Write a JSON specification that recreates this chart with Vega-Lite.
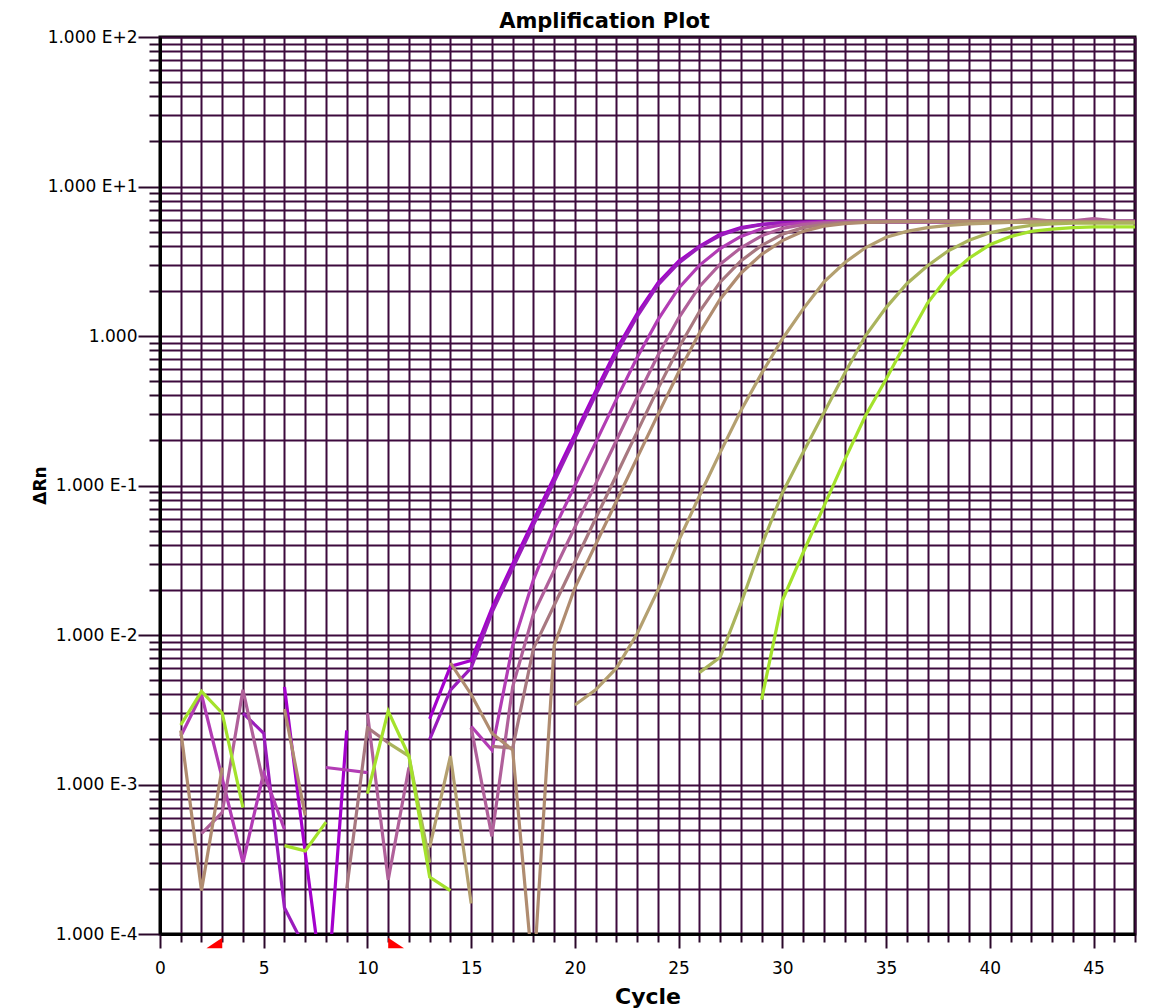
{
  "$schema": "https://vega.github.io/schema/vega-lite/v6.json",
  "width": 975,
  "height": 897,
  "autosize": {"type": "none"},
  "padding": {"left": 160, "top": 37, "right": 15, "bottom": 74},
  "background": "#ffffff",
  "config": {
    "font": "DejaVu Sans",
    "view": {"stroke": "#000000", "strokeWidth": 3},
    "axis": {
      "gridColor": "#3d0a3d",
      "gridWidth": 2,
      "gridOpacity": 1,
      "tickColor": "#2a082a",
      "tickWidth": 2,
      "domainColor": "#000000",
      "domainWidth": 3,
      "labelFont": "DejaVu Sans",
      "labelFontSize": 17,
      "labelColor": "#000000",
      "titleFont": "DejaVu Sans",
      "titleFontWeight": "bold",
      "titleColor": "#000000"
    }
  },
  "title": {
    "text": "Amplification Plot",
    "font": "DejaVu Sans",
    "fontSize": 21,
    "fontWeight": "bold",
    "color": "#000000",
    "anchor": "middle",
    "dx": -43,
    "offset": -4
  },
  "datasets": {
    "baseline": [
      {"marker": "start", "cycle": 3},
      {"marker": "end", "cycle": 11}
    ],
    "runs": [
      {"well":"P1","cycle":6,"dRn":0.0045},{"well":"P1","cycle":7,"dRn":0.00035},{"well":"P1","cycle":8,"dRn":0.00003},{"well":"P1","cycle":9,"dRn":0.0023},{"well":"P1","cycle":10,"dRn":null},
      {"well":"P1","cycle":13,"dRn":0.00275},{"well":"P1","cycle":14,"dRn":0.00617},{"well":"P1","cycle":15,"dRn":0.00676},{"well":"P1","cycle":16,"dRn":0.0151},{"well":"P1","cycle":17,"dRn":0.0299},{"well":"P1","cycle":18,"dRn":0.0582},{"well":"P1","cycle":19,"dRn":0.1135},{"well":"P1","cycle":20,"dRn":0.2203},{"well":"P1","cycle":21,"dRn":0.4266},{"well":"P1","cycle":22,"dRn":0.8128},{"well":"P1","cycle":23,"dRn":1.413},{"well":"P1","cycle":24,"dRn":2.265},{"well":"P1","cycle":25,"dRn":3.162},{"well":"P1","cycle":26,"dRn":3.981},{"well":"P1","cycle":27,"dRn":4.786},{"well":"P1","cycle":28,"dRn":5.309},{"well":"P1","cycle":29,"dRn":5.585},{"well":"P1","cycle":30,"dRn":5.728},{"well":"P1","cycle":31,"dRn":5.781},{"well":"P1","cycle":32,"dRn":5.821},{"well":"P1","cycle":33,"dRn":5.83},{"well":"P1","cycle":34,"dRn":5.82},{"well":"P1","cycle":35,"dRn":5.83},{"well":"P1","cycle":36,"dRn":5.82},{"well":"P1","cycle":37,"dRn":5.82},{"well":"P1","cycle":38,"dRn":5.83},{"well":"P1","cycle":39,"dRn":5.82},{"well":"P1","cycle":40,"dRn":5.82},{"well":"P1","cycle":41,"dRn":5.83},{"well":"P1","cycle":42,"dRn":5.82},{"well":"P1","cycle":43,"dRn":5.82},{"well":"P1","cycle":44,"dRn":5.83},{"well":"P1","cycle":45,"dRn":5.82},{"well":"P1","cycle":46,"dRn":5.82},{"well":"P1","cycle":47,"dRn":5.82},

      {"well":"P2","cycle":4,"dRn":0.003},{"well":"P2","cycle":5,"dRn":0.0022},{"well":"P2","cycle":6,"dRn":0.00015},{"well":"P2","cycle":7,"dRn":0.00008},{"well":"P2","cycle":8,"dRn":null},
      {"well":"P2","cycle":13,"dRn":0.002},{"well":"P2","cycle":14,"dRn":0.00427},{"well":"P2","cycle":15,"dRn":0.00603},{"well":"P2","cycle":16,"dRn":0.0141},{"well":"P2","cycle":17,"dRn":0.0279},{"well":"P2","cycle":18,"dRn":0.0543},{"well":"P2","cycle":19,"dRn":0.1059},{"well":"P2","cycle":20,"dRn":0.2065},{"well":"P2","cycle":21,"dRn":0.4027},{"well":"P2","cycle":22,"dRn":0.7674},{"well":"P2","cycle":23,"dRn":1.349},{"well":"P2","cycle":24,"dRn":2.188},{"well":"P2","cycle":25,"dRn":3.069},{"well":"P2","cycle":26,"dRn":3.926},{"well":"P2","cycle":27,"dRn":4.699},{"well":"P2","cycle":28,"dRn":5.248},{"well":"P2","cycle":29,"dRn":5.559},{"well":"P2","cycle":30,"dRn":5.715},{"well":"P2","cycle":31,"dRn":5.76},{"well":"P2","cycle":32,"dRn":5.77},{"well":"P2","cycle":33,"dRn":5.77},{"well":"P2","cycle":34,"dRn":5.77},{"well":"P2","cycle":35,"dRn":5.77},{"well":"P2","cycle":36,"dRn":5.77},{"well":"P2","cycle":37,"dRn":5.77},{"well":"P2","cycle":38,"dRn":5.77},{"well":"P2","cycle":39,"dRn":5.77},{"well":"P2","cycle":40,"dRn":5.77},{"well":"P2","cycle":41,"dRn":5.77},{"well":"P2","cycle":42,"dRn":5.77},{"well":"P2","cycle":43,"dRn":5.77},{"well":"P2","cycle":44,"dRn":5.77},{"well":"P2","cycle":45,"dRn":5.77},{"well":"P2","cycle":46,"dRn":5.77},{"well":"P2","cycle":47,"dRn":5.77},

      {"well":"M","cycle":1,"dRn":0.0021},{"well":"M","cycle":2,"dRn":0.004},{"well":"M","cycle":3,"dRn":0.0011},{"well":"M","cycle":4,"dRn":0.0003},{"well":"M","cycle":5,"dRn":0.0012},{"well":"M","cycle":6,"dRn":0.0005},{"well":"M","cycle":7,"dRn":null},
      {"well":"M","cycle":8,"dRn":0.0013},{"well":"M","cycle":9,"dRn":0.00125},{"well":"M","cycle":10,"dRn":0.0012},{"well":"M","cycle":11,"dRn":null},
      {"well":"M","cycle":15,"dRn":0.00245},{"well":"M","cycle":16,"dRn":0.0017},{"well":"M","cycle":17,"dRn":0.0085},{"well":"M","cycle":18,"dRn":0.0234},{"well":"M","cycle":19,"dRn":0.0513},{"well":"M","cycle":20,"dRn":0.1},{"well":"M","cycle":21,"dRn":0.1936},{"well":"M","cycle":22,"dRn":0.3767},{"well":"M","cycle":23,"dRn":0.7178},{"well":"M","cycle":24,"dRn":1.281},{"well":"M","cycle":25,"dRn":2.087},{"well":"M","cycle":26,"dRn":2.969},{"well":"M","cycle":27,"dRn":3.842},{"well":"M","cycle":28,"dRn":4.634},{"well":"M","cycle":29,"dRn":5.218},{"well":"M","cycle":30,"dRn":5.546},{"well":"M","cycle":31,"dRn":5.702},{"well":"M","cycle":32,"dRn":5.781},{"well":"M","cycle":33,"dRn":5.85},{"well":"M","cycle":34,"dRn":5.85},{"well":"M","cycle":35,"dRn":5.85},{"well":"M","cycle":36,"dRn":5.85},{"well":"M","cycle":37,"dRn":5.85},{"well":"M","cycle":38,"dRn":5.85},{"well":"M","cycle":39,"dRn":5.85},{"well":"M","cycle":40,"dRn":5.85},{"well":"M","cycle":41,"dRn":5.85},{"well":"M","cycle":42,"dRn":5.85},{"well":"M","cycle":43,"dRn":5.85},{"well":"M","cycle":44,"dRn":5.85},{"well":"M","cycle":45,"dRn":5.85},{"well":"M","cycle":46,"dRn":5.85},{"well":"M","cycle":47,"dRn":5.85},

      {"well":"MV","cycle":2,"dRn":0.00047},{"well":"MV","cycle":3,"dRn":0.00065},{"well":"MV","cycle":4,"dRn":0.0043},{"well":"MV","cycle":5,"dRn":0.001},{"well":"MV","cycle":6,"dRn":null},
      {"well":"MV","cycle":10,"dRn":0.003},{"well":"MV","cycle":11,"dRn":0.00023},{"well":"MV","cycle":12,"dRn":0.0013},{"well":"MV","cycle":13,"dRn":null},
      {"well":"MV","cycle":15,"dRn":0.0024},{"well":"MV","cycle":16,"dRn":0.00045},{"well":"MV","cycle":17,"dRn":0.0045},{"well":"MV","cycle":18,"dRn":0.0138},{"well":"MV","cycle":19,"dRn":0.027},{"well":"MV","cycle":20,"dRn":0.0526},{"well":"MV","cycle":21,"dRn":0.1026},{"well":"MV","cycle":22,"dRn":0.2},{"well":"MV","cycle":23,"dRn":0.389},{"well":"MV","cycle":24,"dRn":0.741},{"well":"MV","cycle":25,"dRn":1.318},{"well":"MV","cycle":26,"dRn":2.138},{"well":"MV","cycle":27,"dRn":3.02},{"well":"MV","cycle":28,"dRn":3.89},{"well":"MV","cycle":29,"dRn":4.677},{"well":"MV","cycle":30,"dRn":5.248},{"well":"MV","cycle":31,"dRn":5.559},{"well":"MV","cycle":32,"dRn":5.715},{"well":"MV","cycle":33,"dRn":5.781},{"well":"MV","cycle":34,"dRn":5.85},{"well":"MV","cycle":35,"dRn":5.88},{"well":"MV","cycle":36,"dRn":5.88},{"well":"MV","cycle":37,"dRn":5.88},{"well":"MV","cycle":38,"dRn":5.88},{"well":"MV","cycle":39,"dRn":5.88},{"well":"MV","cycle":40,"dRn":5.88},{"well":"MV","cycle":41,"dRn":5.88},{"well":"MV","cycle":42,"dRn":6.05},{"well":"MV","cycle":43,"dRn":5.88},{"well":"MV","cycle":44,"dRn":5.9},{"well":"MV","cycle":45,"dRn":6.1},{"well":"MV","cycle":46,"dRn":5.9},{"well":"MV","cycle":47,"dRn":5.88},

      {"well":"MB","cycle":9,"dRn":0.0002},{"well":"MB","cycle":10,"dRn":0.0024},{"well":"MB","cycle":11,"dRn":0.0019},{"well":"MB","cycle":12,"dRn":null},
      {"well":"MB","cycle":16,"dRn":0.0018},{"well":"MB","cycle":17,"dRn":0.00175},{"well":"MB","cycle":18,"dRn":0.0081},{"well":"MB","cycle":19,"dRn":0.0158},{"well":"MB","cycle":20,"dRn":0.0308},{"well":"MB","cycle":21,"dRn":0.0601},{"well":"MB","cycle":22,"dRn":0.1172},{"well":"MB","cycle":23,"dRn":0.2286},{"well":"MB","cycle":24,"dRn":0.4426},{"well":"MB","cycle":25,"dRn":0.8318},{"well":"MB","cycle":26,"dRn":1.452},{"well":"MB","cycle":27,"dRn":2.291},{"well":"MB","cycle":28,"dRn":3.177},{"well":"MB","cycle":29,"dRn":4.036},{"well":"MB","cycle":30,"dRn":4.786},{"well":"MB","cycle":31,"dRn":5.309},{"well":"MB","cycle":32,"dRn":5.585},{"well":"MB","cycle":33,"dRn":5.728},{"well":"MB","cycle":34,"dRn":5.781},{"well":"MB","cycle":35,"dRn":5.8},{"well":"MB","cycle":36,"dRn":5.8},{"well":"MB","cycle":37,"dRn":5.8},{"well":"MB","cycle":38,"dRn":5.8},{"well":"MB","cycle":39,"dRn":5.8},{"well":"MB","cycle":40,"dRn":5.8},{"well":"MB","cycle":41,"dRn":5.8},{"well":"MB","cycle":42,"dRn":5.8},{"well":"MB","cycle":43,"dRn":5.8},{"well":"MB","cycle":44,"dRn":5.8},{"well":"MB","cycle":45,"dRn":5.8},{"well":"MB","cycle":46,"dRn":5.8},{"well":"MB","cycle":47,"dRn":5.8},

      {"well":"BR","cycle":1,"dRn":0.0023},{"well":"BR","cycle":2,"dRn":0.000195},{"well":"BR","cycle":3,"dRn":0.0013},{"well":"BR","cycle":4,"dRn":null},
      {"well":"BR","cycle":6,"dRn":0.0032},{"well":"BR","cycle":7,"dRn":0.00062},{"well":"BR","cycle":8,"dRn":null},
      {"well":"BR","cycle":14,"dRn":0.0065},{"well":"BR","cycle":15,"dRn":0.004},{"well":"BR","cycle":16,"dRn":0.0022},{"well":"BR","cycle":17,"dRn":0.0017},{"well":"BR","cycle":18,"dRn":0.00005},{"well":"BR","cycle":19,"dRn":0.0085},{"well":"BR","cycle":20,"dRn":0.0207},{"well":"BR","cycle":21,"dRn":0.0403},{"well":"BR","cycle":22,"dRn":0.0785},{"well":"BR","cycle":23,"dRn":0.1531},{"well":"BR","cycle":24,"dRn":0.2979},{"well":"BR","cycle":25,"dRn":0.5728},{"well":"BR","cycle":26,"dRn":1.047},{"well":"BR","cycle":27,"dRn":1.762},{"well":"BR","cycle":28,"dRn":2.63},{"well":"BR","cycle":29,"dRn":3.516},{"well":"BR","cycle":30,"dRn":4.345},{"well":"BR","cycle":31,"dRn":5.012},{"well":"BR","cycle":32,"dRn":5.433},{"well":"BR","cycle":33,"dRn":5.649},{"well":"BR","cycle":34,"dRn":5.754},{"well":"BR","cycle":35,"dRn":5.794},{"well":"BR","cycle":36,"dRn":5.82},{"well":"BR","cycle":37,"dRn":5.82},{"well":"BR","cycle":38,"dRn":5.82},{"well":"BR","cycle":39,"dRn":5.82},{"well":"BR","cycle":40,"dRn":5.82},{"well":"BR","cycle":41,"dRn":5.82},{"well":"BR","cycle":42,"dRn":5.82},{"well":"BR","cycle":43,"dRn":5.82},{"well":"BR","cycle":44,"dRn":5.82},{"well":"BR","cycle":45,"dRn":5.82},{"well":"BR","cycle":46,"dRn":5.82},{"well":"BR","cycle":47,"dRn":5.82},

      {"well":"OT","cycle":13,"dRn":0.00038},{"well":"OT","cycle":14,"dRn":0.00155},{"well":"OT","cycle":15,"dRn":0.00016},{"well":"OT","cycle":16,"dRn":null},
      {"well":"OT","cycle":20,"dRn":0.0034},{"well":"OT","cycle":21,"dRn":0.0043},{"well":"OT","cycle":22,"dRn":0.006},{"well":"OT","cycle":23,"dRn":0.0102},{"well":"OT","cycle":24,"dRn":0.01995},{"well":"OT","cycle":25,"dRn":0.0427},{"well":"OT","cycle":26,"dRn":0.0851},{"well":"OT","cycle":27,"dRn":0.166},{"well":"OT","cycle":28,"dRn":0.316},{"well":"OT","cycle":29,"dRn":0.562},{"well":"OT","cycle":30,"dRn":0.955},{"well":"OT","cycle":31,"dRn":1.514},{"well":"OT","cycle":32,"dRn":2.291},{"well":"OT","cycle":33,"dRn":3.09},{"well":"OT","cycle":34,"dRn":3.89},{"well":"OT","cycle":35,"dRn":4.571},{"well":"OT","cycle":36,"dRn":5.012},{"well":"OT","cycle":37,"dRn":5.309},{"well":"OT","cycle":38,"dRn":5.495},{"well":"OT","cycle":39,"dRn":5.623},{"well":"OT","cycle":40,"dRn":5.689},{"well":"OT","cycle":41,"dRn":5.75},{"well":"OT","cycle":42,"dRn":5.75},{"well":"OT","cycle":43,"dRn":5.75},{"well":"OT","cycle":44,"dRn":5.75},{"well":"OT","cycle":45,"dRn":5.75},{"well":"OT","cycle":46,"dRn":5.75},{"well":"OT","cycle":47,"dRn":5.75},

      {"well":"OL","cycle":11,"dRn":0.0019},{"well":"OL","cycle":12,"dRn":0.00155},{"well":"OL","cycle":13,"dRn":0.0003},{"well":"OL","cycle":14,"dRn":null},
      {"well":"OL","cycle":26,"dRn":0.0056},{"well":"OL","cycle":27,"dRn":0.0071},{"well":"OL","cycle":28,"dRn":0.0162},{"well":"OL","cycle":29,"dRn":0.0398},{"well":"OL","cycle":30,"dRn":0.0891},{"well":"OL","cycle":31,"dRn":0.166},{"well":"OL","cycle":32,"dRn":0.3055},{"well":"OL","cycle":33,"dRn":0.562},{"well":"OL","cycle":34,"dRn":1.0},{"well":"OL","cycle":35,"dRn":1.549},{"well":"OL","cycle":36,"dRn":2.239},{"well":"OL","cycle":37,"dRn":2.951},{"well":"OL","cycle":38,"dRn":3.715},{"well":"OL","cycle":39,"dRn":4.365},{"well":"OL","cycle":40,"dRn":4.898},{"well":"OL","cycle":41,"dRn":5.248},{"well":"OL","cycle":42,"dRn":5.495},{"well":"OL","cycle":43,"dRn":5.623},{"well":"OL","cycle":44,"dRn":5.69},{"well":"OL","cycle":45,"dRn":5.69},{"well":"OL","cycle":46,"dRn":5.69},{"well":"OL","cycle":47,"dRn":5.69},

      {"well":"GR","cycle":1,"dRn":0.0025},{"well":"GR","cycle":2,"dRn":0.0042},{"well":"GR","cycle":3,"dRn":0.003},{"well":"GR","cycle":4,"dRn":0.0007},{"well":"GR","cycle":5,"dRn":null},
      {"well":"GR","cycle":6,"dRn":0.00039},{"well":"GR","cycle":7,"dRn":0.00036},{"well":"GR","cycle":8,"dRn":0.00056},{"well":"GR","cycle":9,"dRn":null},
      {"well":"GR","cycle":10,"dRn":0.00087},{"well":"GR","cycle":11,"dRn":0.0031},{"well":"GR","cycle":12,"dRn":0.00155},{"well":"GR","cycle":13,"dRn":0.00024},{"well":"GR","cycle":14,"dRn":0.000195},{"well":"GR","cycle":15,"dRn":null},
      {"well":"GR","cycle":29,"dRn":0.0037},{"well":"GR","cycle":30,"dRn":0.017},{"well":"GR","cycle":31,"dRn":0.0355},{"well":"GR","cycle":32,"dRn":0.0724},{"well":"GR","cycle":33,"dRn":0.148},{"well":"GR","cycle":34,"dRn":0.2917},{"well":"GR","cycle":35,"dRn":0.5129},{"well":"GR","cycle":36,"dRn":0.933},{"well":"GR","cycle":37,"dRn":1.66},{"well":"GR","cycle":38,"dRn":2.512},{"well":"GR","cycle":39,"dRn":3.311},{"well":"GR","cycle":40,"dRn":4.074},{"well":"GR","cycle":41,"dRn":4.624},{"well":"GR","cycle":42,"dRn":5.012},{"well":"GR","cycle":43,"dRn":5.188},{"well":"GR","cycle":44,"dRn":5.309},{"well":"GR","cycle":45,"dRn":5.37},{"well":"GR","cycle":46,"dRn":5.37},{"well":"GR","cycle":47,"dRn":5.37}
    ]
  },
  "encoding": {
    "x": {
      "field": "cycle",
      "type": "quantitative",
      "scale": {"domain": [0, 47], "nice": false, "zero": false},
      "axis": {
        "title": "Cycle",
        "titleFontSize": 22,
        "titleY": 62,
        "titleBaseline": "middle",
        "values": [0,1,2,3,4,5,6,7,8,9,10,11,12,13,14,15,16,17,18,19,20,21,22,23,24,25,26,27,28,29,30,31,32,33,34,35,36,37,38,39,40,41,42,43,44,45,46,47],
        "labelExpr": "datum.value % 5 === 0 ? datum.label : ''",
        "tickSize": {"condition": {"test": "datum.value % 5 === 0", "value": 14}, "value": 8},
        "labelPadding": 12,
        "labelFlush": false,
        "labelOverlap": false,
        "grid": true
      }
    }
  },
  "layer": [
    {
      "data": {"name": "runs"},
      "mark": {"type": "line", "strokeWidth": 3.2, "clip": true, "invalid": "break-paths-show-domains"},
      "encoding": {
        "y": {
          "field": "dRn",
          "type": "quantitative",
          "scale": {"type": "log", "domain": [0.0001, 100], "nice": false},
          "axis": {
            "title": "ΔRn",
            "titleFontSize": 17,
            "titleX": -120,
            "titleY": 448,
            "titleAlign": "center",
            "titleBaseline": "middle",
            "titleAngle": -90,
            "values": [0.0001,0.0002,0.0003,0.0004,0.0005,0.0006,0.0007,0.0008,0.0009,0.001,0.002,0.003,0.004,0.005,0.006,0.007,0.008,0.009,0.01,0.02,0.03,0.04,0.05,0.06,0.07,0.08,0.09,0.1,0.2,0.3,0.4,0.5,0.6,0.7,0.8,0.9,1,2,3,4,5,6,7,8,9,10,20,30,40,50,60,70,80,90,100],
            "labelExpr": "datum.value === 100 ? '1.000 E+2' : datum.value === 10 ? '1.000 E+1' : datum.value === 1 ? '1.000' : datum.value === 0.1 ? '1.000 E-1' : datum.value === 0.01 ? '1.000 E-2' : datum.value === 0.001 ? '1.000 E-3' : datum.value === 0.0001 ? '1.000 E-4' : ''",
            "tickSize": {"condition": {"test": "indexof([100,10,1,0.1,0.01,0.001,0.0001], datum.value) >= 0", "value": 22}, "value": 11},
            "labelPadding": 1,
            "labelOverlap": false,
            "labelFlush": false,
            "grid": true
          }
        },
        "color": {
          "field": "well",
          "type": "nominal",
          "scale": {
            "domain": ["P1","P2","M","MV","MB","BR","OT","OL","GR"],
            "range": ["#a400cc","#9a1cbc","#b23cb4","#b0609a","#a87880","#b08c70","#b4a070","#aab45c","#a4e22c"]
          },
          "legend": null
        }
      }
    },
    {
      "data": {"values": [{"threshold": 0.2}]},
      "mark": {"type": "rule", "color": "#ff0000", "strokeWidth": 1.5, "clip": false},
      "encoding": {
        "x": {"datum": 0, "type": "quantitative", "axis": {
          "title": "Cycle",
          "titleFontSize": 22,
          "titleY": 62,
          "titleBaseline": "middle",
          "values": [0,1,2,3,4,5,6,7,8,9,10,11,12,13,14,15,16,17,18,19,20,21,22,23,24,25,26,27,28,29,30,31,32,33,34,35,36,37,38,39,40,41,42,43,44,45,46,47],
          "labelExpr": "datum.value % 5 === 0 ? datum.label : ''",
          "tickSize": {"condition": {"test": "datum.value % 5 === 0", "value": 14}, "value": 8},
          "labelPadding": 12,
          "labelFlush": false,
          "labelOverlap": false,
          "grid": true
        }},
        "x2": {"datum": 47.5},
        "y": {"field": "threshold", "type": "quantitative", "axis": {
            "title": "ΔRn",
            "titleFontSize": 17,
            "titleX": -120,
            "titleY": 448,
            "titleAlign": "center",
            "titleBaseline": "middle",
            "titleAngle": -90,
            "values": [0.0001,0.0002,0.0003,0.0004,0.0005,0.0006,0.0007,0.0008,0.0009,0.001,0.002,0.003,0.004,0.005,0.006,0.007,0.008,0.009,0.01,0.02,0.03,0.04,0.05,0.06,0.07,0.08,0.09,0.1,0.2,0.3,0.4,0.5,0.6,0.7,0.8,0.9,1,2,3,4,5,6,7,8,9,10,20,30,40,50,60,70,80,90,100],
            "labelExpr": "datum.value === 100 ? '1.000 E+2' : datum.value === 10 ? '1.000 E+1' : datum.value === 1 ? '1.000' : datum.value === 0.1 ? '1.000 E-1' : datum.value === 0.01 ? '1.000 E-2' : datum.value === 0.001 ? '1.000 E-3' : datum.value === 0.0001 ? '1.000 E-4' : ''",
            "tickSize": {"condition": {"test": "indexof([100,10,1,0.1,0.01,0.001,0.0001], datum.value) >= 0", "value": 22}, "value": 11},
            "labelPadding": 1,
            "labelOverlap": false,
            "labelFlush": false,
            "grid": true
          }}
      }
    },
    {
      "data": {"name": "baseline"},
      "mark": {"type": "point", "filled": true, "fill": "#ff0000", "strokeWidth": 0, "opacity": 1, "size": 1000, "clip": false},
      "encoding": {
        "y": {"datum": 0.000087, "type": "quantitative", "axis": {
            "title": "ΔRn",
            "titleFontSize": 17,
            "titleX": -120,
            "titleY": 448,
            "titleAlign": "center",
            "titleBaseline": "middle",
            "titleAngle": -90,
            "values": [0.0001,0.0002,0.0003,0.0004,0.0005,0.0006,0.0007,0.0008,0.0009,0.001,0.002,0.003,0.004,0.005,0.006,0.007,0.008,0.009,0.01,0.02,0.03,0.04,0.05,0.06,0.07,0.08,0.09,0.1,0.2,0.3,0.4,0.5,0.6,0.7,0.8,0.9,1,2,3,4,5,6,7,8,9,10,20,30,40,50,60,70,80,90,100],
            "labelExpr": "datum.value === 100 ? '1.000 E+2' : datum.value === 10 ? '1.000 E+1' : datum.value === 1 ? '1.000' : datum.value === 0.1 ? '1.000 E-1' : datum.value === 0.01 ? '1.000 E-2' : datum.value === 0.001 ? '1.000 E-3' : datum.value === 0.0001 ? '1.000 E-4' : ''",
            "tickSize": {"condition": {"test": "indexof([100,10,1,0.1,0.01,0.001,0.0001], datum.value) >= 0", "value": 22}, "value": 11},
            "labelPadding": 1,
            "labelOverlap": false,
            "labelFlush": false,
            "grid": true
          }},
        "shape": {
          "field": "marker",
          "type": "nominal",
          "scale": {"domain": ["start", "end"], "range": ["M -1 0.33 L 0 0.33 L 0 -0.33 Z", "M 0 -0.33 L 0 0.33 L 1 0.33 Z"]},
          "legend": null
        }
      }
    }
  ]
}
